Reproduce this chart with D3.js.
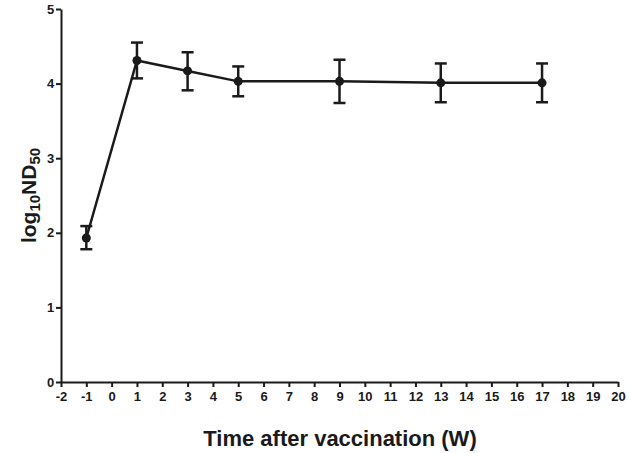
<!DOCTYPE html>
<html><head><meta charset="utf-8">
<script src="https://cdn.jsdelivr.net/npm/d3@7"></script>
<style>body{margin:0;background:#fff}svg{display:block}</style>
</head><body>
<script>
const weeks = [-1, 1, 3, 5, 9, 13, 17];
const meanVals = [1.93, 4.31, 4.17, 4.03, 4.03, 4.01, 4.01];
const lowerVals = [1.78, 4.07, 3.91, 3.83, 3.74, 3.75, 3.75];
const upperVals = [2.09, 4.55, 4.42, 4.23, 4.32, 4.27, 4.27];
const xTicks = d3.range(-2, 21, 1);
const yTicks = [0, 1, 2, 3, 4, 5];

const W = 630, H = 453;
const svg = d3.select("body").append("svg").attr("width", W).attr("height", H);
const x = d3.scaleLinear().domain([-2, 20]).range([61, 618]);
const y = d3.scaleLinear().domain([0, 5]).range([382, 9]);
const font = "'Liberation Sans', Arial, sans-serif";
const ink = "#1a1a1a";

const xa = svg.append("g").attr("transform", `translate(0,${y(0)})`)
  .call(d3.axisBottom(x).tickValues(xTicks).tickFormat(d => String(d)).tickSize(5).tickSizeOuter(0));
const ya = svg.append("g").attr("transform", `translate(${x(-2)},0)`)
  .call(d3.axisLeft(y).tickValues(yTicks).tickFormat(d => String(d)).tickSize(5).tickSizeOuter(0));
[xa, ya].forEach(a => {
  a.selectAll("path,line").attr("stroke", ink).attr("stroke-width", 2);
  a.selectAll("text").attr("fill", ink).style("font-family", font).style("font-weight", "bold").style("font-size", "13px");
});
xa.selectAll("text").attr("dy", "0.85em");
ya.selectAll("text").attr("dx", "0.1em");

const data = weeks.map((w, i) => ({w, m: meanVals[i], lo: lowerVals[i], hi: upperVals[i]}));
svg.append("path").datum(data)
  .attr("d", d3.line().x(d => x(d.w)).y(d => y(d.m)))
  .attr("fill", "none").attr("stroke", ink).attr("stroke-width", 2.5);

const eb = svg.append("g").attr("stroke", ink).attr("stroke-width", 2.5);
data.forEach(d => {
  eb.append("line").attr("x1", x(d.w)).attr("x2", x(d.w)).attr("y1", y(d.lo)).attr("y2", y(d.hi));
  eb.append("line").attr("x1", x(d.w) - 6).attr("x2", x(d.w) + 6).attr("y1", y(d.lo)).attr("y2", y(d.lo));
  eb.append("line").attr("x1", x(d.w) - 6).attr("x2", x(d.w) + 6).attr("y1", y(d.hi)).attr("y2", y(d.hi));
});
svg.append("g").selectAll("circle").data(data).join("circle")
  .attr("cx", d => x(d.w)).attr("cy", d => y(d.m)).attr("r", 4.5).attr("fill", ink);

svg.append("text").attr("x", 340).attr("y", 446).attr("text-anchor", "middle")
  .style("font-family", font).style("font-weight", "bold").style("font-size", "22px").attr("fill", ink)
  .text("Time after vaccination (W)");

const yl = svg.append("text").attr("transform", `translate(36,${y(2.5)}) rotate(-90)`).attr("text-anchor", "middle")
  .style("font-family", font).style("font-weight", "bold").style("font-size", "21px").attr("fill", ink);
yl.append("tspan").text("log");
yl.append("tspan").text("10").attr("dy", 4).style("font-size", "15px");
yl.append("tspan").text("ND").attr("dy", -4);
yl.append("tspan").text("50").attr("dy", 4).style("font-size", "15px");
</script>
</body></html>
